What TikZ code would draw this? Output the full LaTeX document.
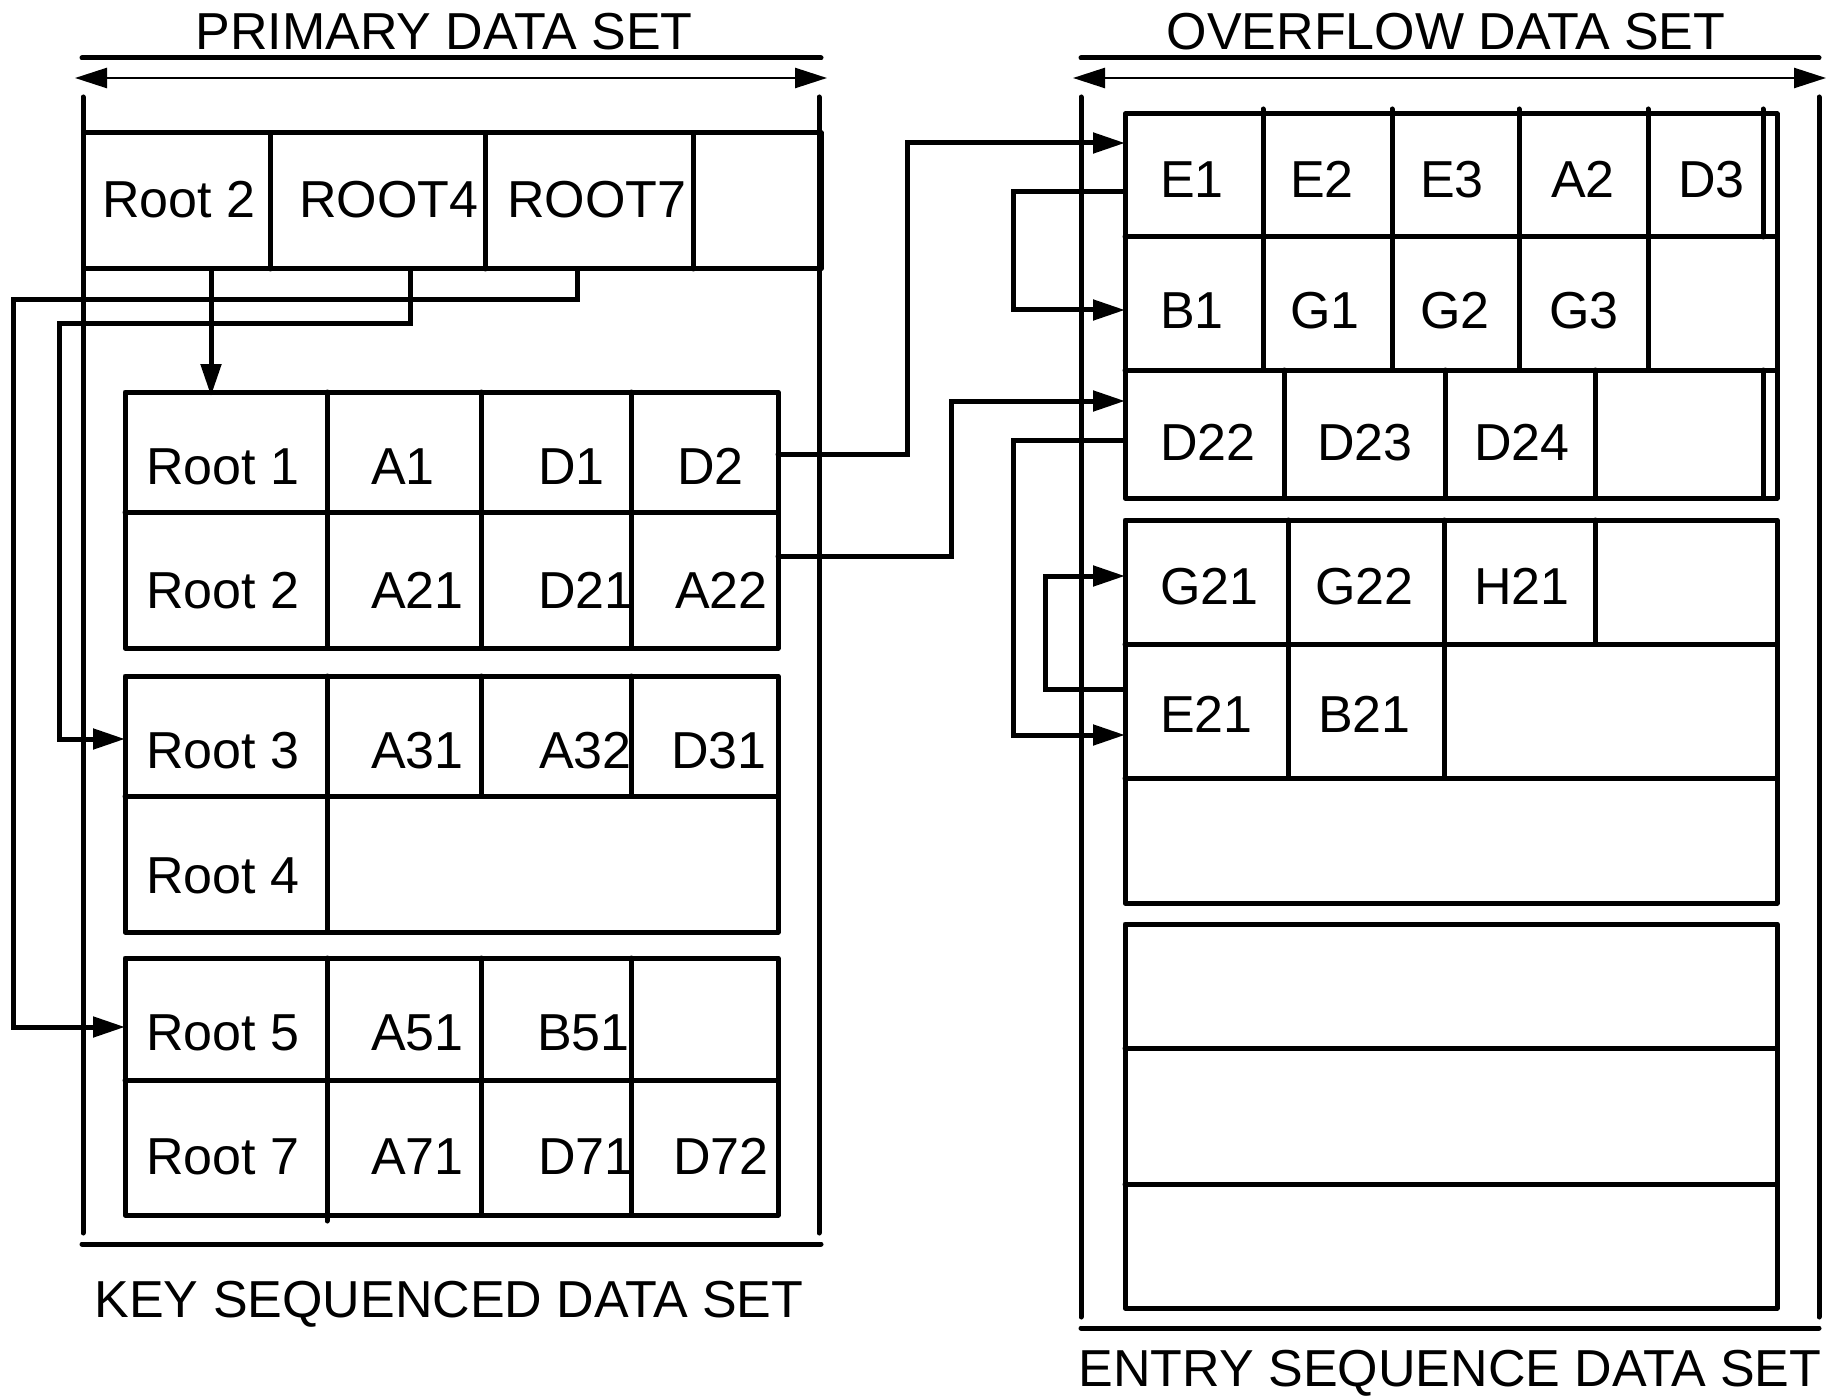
\documentclass[tikz,border=0pt]{standalone}
\usepackage{fontspec}
\setmainfont{Liberation Sans}
\usetikzlibrary{arrows.meta}
\tikzset{
  ln/.style={line width=5pt, line cap=round, line join=round},
  conn/.style={line width=5pt, line cap=round, line join=miter},
  arr/.style={-{Triangle[length=32pt,width=20pt]}},
  dimarr/.style={line width=2.5pt, {Triangle[length=32pt,width=20pt]}-{Triangle[length=32pt,width=20pt]}},
  lbl/.style={inner sep=0pt, anchor=base west, font=\fontsize{52}{60}\selectfont},
  ttl/.style={inner sep=0pt, anchor=base, font=\fontsize{52}{60}\selectfont},
}
\begin{document}
\begin{tikzpicture}[x=1pt,y=-1pt]
\useasboundingbox (0,0) rectangle (1833,1396);

% ---------- titles and brackets ----------
\node[ttl] (tprim) at (444,50) {PRIMARY DATA SET};
\node[ttl] (tover) at (1446,50) {OVERFLOW DATA SET};
\node[ttl] (tkey) at (449,1317) {KEY SEQUENCED DATA SET};
\node[ttl] (tentry) at (1450,1386) {ENTRY SEQUENCE DATA SET};

\draw[ln] (82,58) -- (821,58);
\draw[dimarr] (75,78) -- (827,78);
\draw[ln] (83,97) -- (83,1233);
\draw[ln] (819,97) -- (819,1233);
\draw[ln] (82,1244) -- (821,1244);

\draw[ln] (1081,58) -- (1819,58);
\draw[dimarr] (1073,78) -- (1826,78);
\draw[ln] (1081,97) -- (1081,1317);
\draw[ln] (1819,97) -- (1819,1317);
\draw[ln] (1081,1328) -- (1819,1328);

% ---------- top root row ----------
\draw[ln] (83,133) rectangle (821,269);
\draw[ln] (270,133) -- (270,269);
\draw[ln] (485,133) -- (485,269);
\draw[ln] (693,133) -- (693,269);
\node[lbl] (rr2) at (102,218) {Root 2};
\node[lbl] (rr4) at (299,218) {ROOT4};
\node[lbl] (rr7) at (507,218) {ROOT7};

% ---------- key sequenced block 1 ----------
\draw[ln] (125,392) rectangle (778,648);
\draw[ln] (125,512) -- (778,512);
\foreach \x in {327,481,631} \draw[ln] (\x,392) -- (\x,648);
\node[lbl] (kr1) at (146,484) {Root 1};
\node[lbl] (ka1) at (371,484) {A1};
\node[lbl] (kd1) at (538,484) {D1};
\node[lbl] (kd2) at (677,484) {D2};
\node[lbl] (kr2) at (146,608) {Root 2};
\node[lbl] (ka21) at (371,608) {A21};
\node[lbl] (kd21) at (538,608) {D21};
\node[lbl] (ka22) at (675,608) {A22};

% ---------- key sequenced block 2 ----------
\draw[ln] (125,676) rectangle (778,932);
\draw[ln] (125,796) -- (778,796);
\draw[ln] (327,676) -- (327,932);
\draw[ln] (481,676) -- (481,796);
\draw[ln] (631,676) -- (631,796);
\node[lbl] (kr3) at (146,768) {Root 3};
\node[lbl] (ka31) at (371,768) {A31};
\node[lbl] (ka32) at (539,768) {A32};
\node[lbl] (kd31) at (671,768) {D31};
\node[lbl] (kr4) at (146,893) {Root 4};

% ---------- key sequenced block 3 ----------
\draw[ln] (125,958) rectangle (778,1215);
\draw[ln] (125,1080) -- (778,1080);
\draw[ln] (327,958) -- (327,1221);
\draw[ln] (481,958) -- (481,1215);
\draw[ln] (631,958) -- (631,1215);
\node[lbl] (kr5) at (146,1050) {Root 5};
\node[lbl] (ka51) at (371,1050) {A51};
\node[lbl] (kb51) at (537,1050) {B51};
\node[lbl] (kr7) at (146,1174) {Root 7};
\node[lbl] (ka71) at (371,1174) {A71};
\node[lbl] (kd71) at (538,1174) {D71};
\node[lbl] (kd72) at (673,1174) {D72};

% ---------- overflow block 1 ----------
\draw[ln] (1125,114) rectangle (1777,498);
\draw[ln] (1125,237) -- (1777,237);
\draw[ln] (1125,370) -- (1777,370);
\foreach \x in {1263,1392,1519,1648} \draw[ln] (\x,109) -- (\x,370);
\draw[ln] (1763,109) -- (1763,237);
\foreach \x in {1284,1445,1595} \draw[ln] (\x,370) -- (\x,498);
\draw[ln] (1763,370) -- (1763,498);
\node[lbl] (oe1) at (1160,198) {E1};
\node[lbl] (oe2) at (1290,198) {E2};
\node[lbl] (oe3) at (1420,198) {E3};
\node[lbl] (oa2) at (1551,198) {A2};
\node[lbl] (od3) at (1678,198) {D3};
\node[lbl] (ob1) at (1160,329) {B1};
\node[lbl] (og1) at (1290,329) {G1};
\node[lbl] (og2) at (1420,329) {G2};
\node[lbl] (og3) at (1549,329) {G3};
\node[lbl] (od22) at (1160,460) {D22};
\node[lbl] (od23) at (1317,460) {D23};
\node[lbl] (od24) at (1474,460) {D24};

% ---------- overflow block 2 ----------
\draw[ln] (1125,520) rectangle (1777,903);
\draw[ln] (1125,644) -- (1777,644);
\draw[ln] (1125,778) -- (1777,778);
\foreach \x in {1288,1444} \draw[ln] (\x,520) -- (\x,778);
\draw[ln] (1595,520) -- (1595,644);
\node[lbl] (og21) at (1160,604) {G21};
\node[lbl] (og22) at (1315,604) {G22};
\node[lbl] (oh21) at (1474,604) {H21};
\node[lbl] (oe21) at (1160,732) {E21};
\node[lbl] (ob21) at (1318,732) {B21};

% ---------- overflow block 3 ----------
\draw[ln] (1125,924) rectangle (1777,1308);
\draw[ln] (1125,1048) -- (1777,1048);
\draw[ln] (1125,1184) -- (1777,1184);

% ---------- connectors ----------
\coordinate (c1s) at (211,269);  \coordinate (c1t) at (211,396);
\coordinate (c2s) at (410,269);  \coordinate (c2t) at (125,739);
\coordinate (c3s) at (577,269);  \coordinate (c3t) at (125,1027);
\coordinate (c4s) at (778,454);  \coordinate (c4t) at (1125,143);
\coordinate (c5s) at (778,556);  \coordinate (c5t) at (1125,401);
\coordinate (c6s) at (1125,192); \coordinate (c6t) at (1125,310);
\coordinate (c7s) at (1125,440); \coordinate (c7t) at (1125,735);
\coordinate (c8s) at (1125,689); \coordinate (c8t) at (1125,576);

\draw[conn,arr] (c1s) -- (c1t);
\draw[conn,arr] (c2s) -- (410,324) -- (59,324) -- (59,739) -- (c2t);
\draw[conn,arr] (c3s) -- (577,300) -- (13,300) -- (13,1027) -- (c3t);
\draw[conn,arr] (c4s) -- (907,454) -- (907,143) -- (c4t);
\draw[conn,arr] (c5s) -- (951,556) -- (951,401) -- (c5t);
\draw[conn,arr] (c6s) -- (1013,192) -- (1013,310) -- (c6t);
\draw[conn,arr] (c7s) -- (1013,440) -- (1013,735) -- (c7t);
\draw[conn,arr] (c8s) -- (1045,689) -- (1045,576) -- (c8t);
\end{tikzpicture}
\end{document}
